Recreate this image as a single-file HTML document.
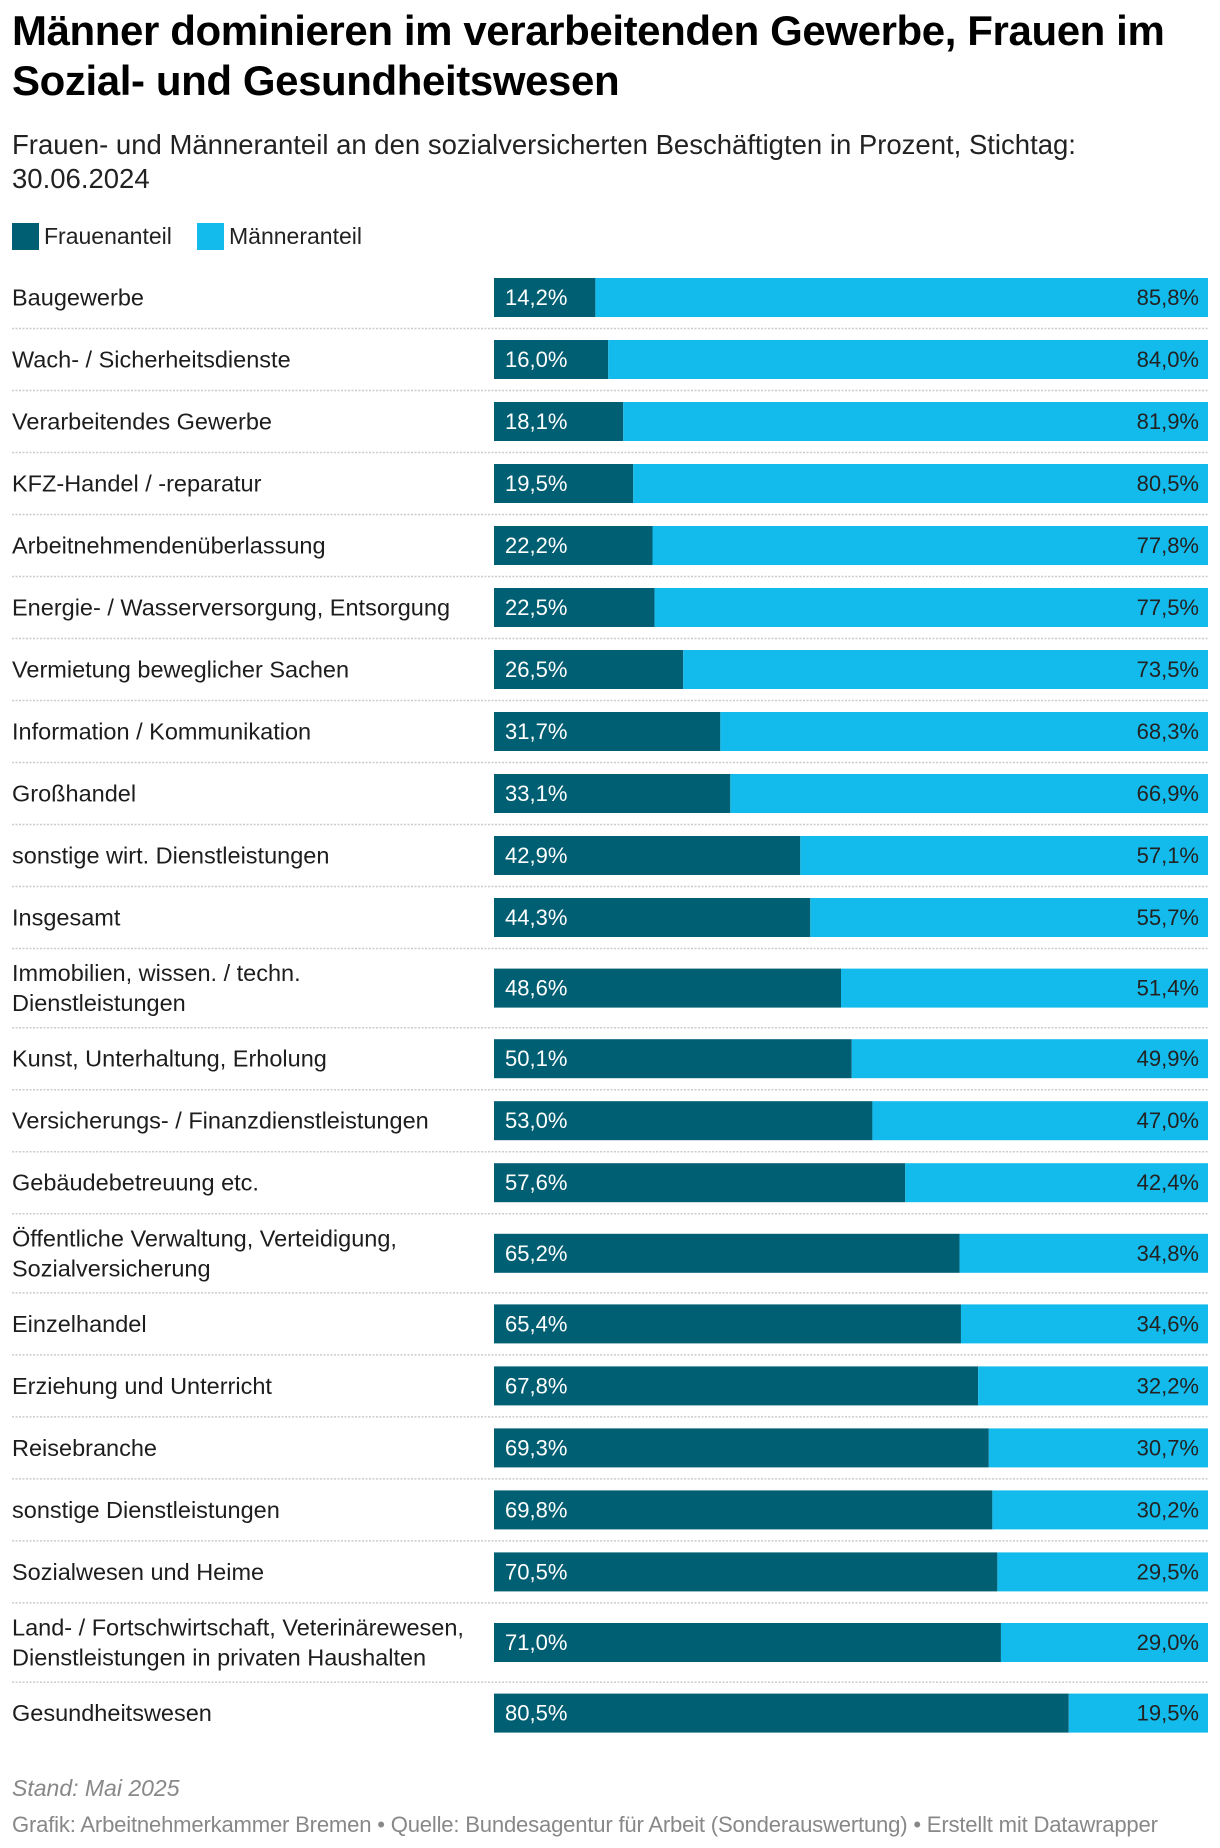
<!DOCTYPE html>
<html><head><meta charset="utf-8">
<style>
body{margin:0;background:#fff;font-family:"Liberation Sans",sans-serif;color:#1d1d1d;width:1220px;height:1848px;overflow:hidden;position:relative}
#title{position:absolute;left:12px;top:6px;width:1200px;font-weight:bold;font-size:42px;line-height:50px;letter-spacing:-0.4px;margin:0;color:#000}
#subtitle{position:absolute;left:12px;top:128px;width:1130px;font-size:27.5px;line-height:34px;color:#222;letter-spacing:0px}
.leg{position:absolute;top:223px;height:27px}
.sw{position:absolute;width:27px;height:27px;top:0}
.lt{position:absolute;top:0;font-size:23px;line-height:27px;color:#222;white-space:nowrap}
#chart{position:absolute;left:0;top:0;width:1220px;height:1848px}
.foot{position:absolute;left:12px;color:#888;white-space:nowrap}
</style></head><body>
<h1 id="title">Männer dominieren im verarbeitenden Gewerbe, Frauen im Sozial- und Gesundheitswesen</h1>
<div id="subtitle">Frauen- und Männeranteil an den sozialversicherten Beschäftigten in Prozent, Stichtag: 30.06.2024</div>
<div class="leg" style="left:12px"><div class="sw" style="left:0;background:#005f73"></div><div class="lt" style="left:32px">Frauenanteil</div></div>
<div class="leg" style="left:197px"><div class="sw" style="left:0;background:#12bbec"></div><div class="lt" style="left:32px">Männeranteil</div></div>
<svg id="chart" xmlns="http://www.w3.org/2000/svg"></svg>
<div class="foot" style="top:1775px;font-size:23px;font-style:italic">Stand: Mai 2025</div>
<div class="foot" style="top:1812px;font-size:22.1px;letter-spacing:-0.2px">Grafik: Arbeitnehmerkammer Bremen • Quelle: Bundesagentur für Arbeit (Sonderauswertung) • Erstellt mit Datawrapper</div>
<script>
const categories=[["Baugewerbe"],["Wach- / Sicherheitsdienste"],["Verarbeitendes Gewerbe"],["KFZ-Handel / -reparatur"],["Arbeitnehmendenüberlassung"],["Energie- / Wasserversorgung, Entsorgung"],["Vermietung beweglicher Sachen"],["Information / Kommunikation"],["Großhandel"],["sonstige wirt. Dienstleistungen"],["Insgesamt"],["Immobilien, wissen. / techn.","Dienstleistungen"],["Kunst, Unterhaltung, Erholung"],["Versicherungs- / Finanzdienstleistungen"],["Gebäudebetreuung etc."],["Öffentliche Verwaltung, Verteidigung,","Sozialversicherung"],["Einzelhandel"],["Erziehung und Unterricht"],["Reisebranche"],["sonstige Dienstleistungen"],["Sozialwesen und Heime"],["Land- / Fortschwirtschaft, Veterinärewesen,","Dienstleistungen in privaten Haushalten"],["Gesundheitswesen"]];
const frauen=[14.2,16.0,18.1,19.5,22.2,22.5,26.5,31.7,33.1,42.9,44.3,48.6,50.1,53.0,57.6,65.2,65.4,67.8,69.3,69.8,70.5,71.0,80.5];
const maenner=[85.8,84.0,81.9,80.5,77.8,77.5,73.5,68.3,66.9,57.1,55.7,51.4,49.9,47.0,42.4,34.8,34.6,32.2,30.7,30.2,29.5,29.0,19.5];
const svg=document.getElementById('chart');const NS='http://www.w3.org/2000/svg';
const x0=494,x1=1208;const xs=v=>x0+(x1-x0)*v/100;
const fmt=v=>v.toFixed(1).replace('.',',')+'%';
function mk(t,a){const e=document.createElementNS(NS,t);for(const k in a)e.setAttribute(k,a[k]);svg.appendChild(e);return e;}
let y=266.5;
categories.forEach((c,i)=>{
 const h=c.length>1?79.2:62.0;const bt=y+(h-39)/2;
 const tot=frauen[i]+maenner[i];
 const lab=mk('text',{x:12,'font-size':23.5,fill:'#1d1d1d','font-family':'Liberation Sans, sans-serif'});
 
 
 if(c.length>1){c.forEach((l,j)=>{const ts=document.createElementNS(NS,'tspan');ts.setAttribute('x',12);ts.setAttribute('y',bt+19.5-15+8+j*30);ts.textContent=l;lab.appendChild(ts);});}
 else{lab.setAttribute('y',bt+19.5+8);lab.textContent=c[0];}
 const r1=mk('rect',{x:x0,y:bt,width:xs(frauen[i]/tot*100)-x0,height:39,fill:'#005f73'});
 
 
 const r2=mk('rect',{x:xs(frauen[i]/tot*100),y:bt,width:x1-xs(frauen[i]/tot*100),height:39,fill:'#12bbec'});
 
 
 const t1=mk('text',{x:x0+11,y:bt+27,'font-size':22,fill:'#fff','font-family':'Liberation Sans, sans-serif'});t1.textContent=fmt(frauen[i]);
 
 
 const t2=mk('text',{x:x1-9,y:bt+27,'font-size':22,fill:'#222','text-anchor':'end','font-family':'Liberation Sans, sans-serif'});t2.textContent=fmt(maenner[i]);
 
 
 if(i<categories.length-1){const ln=mk('line',{x1:12,x2:1208,y1:y+h,y2:y+h,stroke:'#ccc','stroke-width':1.5,'stroke-dasharray':'2,1.5'});
 
 }
 y+=h;
});
</script>
</body></html>
